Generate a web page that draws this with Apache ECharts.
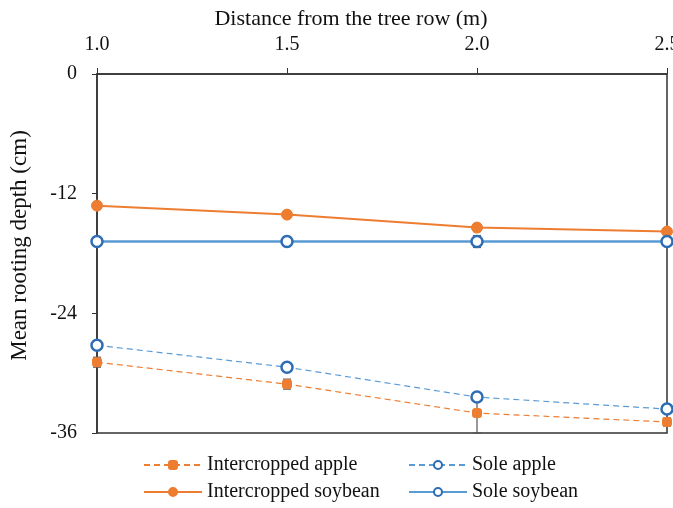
<!DOCTYPE html>
<html lang="en">
<head>
  <meta charset="UTF-8">
  <title>rooting depth</title>
  <script src="https://cdn.jsdelivr.net/npm/echarts@6/dist/echarts.min.js"></script>
  <style>
    html, body { margin: 0; padding: 0; background: #fff; }
    #main { width: 673px; height: 508px; }
  </style>
</head>
<body>
<div id="main"></div>
<script type="text/javascript">
  // data
  var distance = [1.0, 1.5, 2.0, 2.5];
  var intercroppedApple = [-28.9, -31.1, -34.0, -34.9];
  var soleApple = [-27.2, -29.4, -32.4, -33.6];
  var intercroppedSoybean = [-13.2, -14.1, -15.4, -15.8];
  var soleSoybean = [-16.8, -16.8, -16.8, -16.8];
  // error bar half-widths
  var errIntApple = [0.5, 0.5, 2.0, 0.4];
  var errSoleApple = [0.3, 0.3, 0.4, 0.3];
  var errIntSoy = [0.3, 0.3, 0.4, 0.2];
  var errSoleSoy = [0.2, 0.5, 0.6, 0.2];
  var yTicks = [0, -12, -24, -36];

  var orange = '#ED7D31';
  var blue = '#5B9BD5';
  var darkBlue = '#2E6DB4';
  var font = '"Liberation Serif", "DejaVu Serif", serif';

  function pairs(vals) {
    var out = [];
    for (let i = 0; i < distance.length; i++) {
      out.push([distance[i], vals[i]]);
    }
    return out;
  }

  var errData = [];
  [[intercroppedApple, errIntApple], [soleApple, errSoleApple],
   [intercroppedSoybean, errIntSoy], [soleSoybean, errSoleSoy]].forEach(function (p) {
    for (let i = 0; i < distance.length; i++) {
      errData.push([distance[i], p[0][i] - p[1][i], p[0][i] + p[1][i]]);
    }
  });

  var chart = echarts.init(document.getElementById('main'));

  var option = {
    animation: false,
    backgroundColor: '#fff',
    textStyle: { fontFamily: font },
    grid: {
      left: 97, right: 6, top: 74, bottom: 75,
      outerBoundsMode: 'none',
      show: true, borderColor: '#333', borderWidth: 1.5
    },
    xAxis: {
      type: 'value',
      position: 'top',
      min: 1.0, max: 2.5, interval: 0.5,
      name: 'Distance from the tree row (m)',
      nameLocation: 'middle',
      nameGap: 40,
      // title sits a little left of the plot centre in the original
      nameTextStyle: { fontFamily: font, fontSize: 22, color: '#111', padding: [0, 62, 0, 0] },
      axisLine: { show: true, lineStyle: { color: '#333', width: 1.5 } },
      axisTick: { show: true, length: 6, lineStyle: { color: '#333' } },
      axisLabel: {
        fontFamily: font, fontSize: 20, color: '#111', margin: 19,
        formatter: function (v) { return v.toFixed(1); }
      },
      splitLine: { show: false }
    },
    yAxis: {
      type: 'value',
      min: -36, max: 0, interval: 12,
      name: 'Mean rooting depth (cm)',
      nameLocation: 'middle',
      nameGap: 66,
      nameRotate: 90,
      nameTextStyle: { fontFamily: font, fontSize: 23, color: '#111', padding: [0, 0, 0, 16] },
      axisLine: { show: true, lineStyle: { color: '#333', width: 1.5 } },
      axisTick: { show: true, length: 5, lineStyle: { color: '#333' } },
      axisLabel: {
        fontFamily: font, fontSize: 20, color: '#111', margin: 20,
        formatter: function (v) { return yTicks.indexOf(v) >= 0 ? String(v) : ''; }
      },
      splitLine: { show: false }
    },
    legend: [
      {
        left: 143, top: 455, orient: 'vertical', itemGap: 7, padding: 0,
        itemWidth: 58, itemHeight: 10,
        textStyle: { fontFamily: font, fontSize: 20, color: '#111' },
        data: ['Intercropped apple', 'Intercropped soybean']
      },
      {
        left: 408, top: 455, orient: 'vertical', itemGap: 7, padding: 0,
        itemWidth: 58, itemHeight: 10,
        textStyle: { fontFamily: font, fontSize: 20, color: '#111' },
        data: ['Sole apple', 'Sole soybean']
      }
    ],
    series: [
      {
        name: 'Error',
        type: 'custom',
        z: 1,
        data: errData,
        renderItem: function (params, api) {
          var x = api.value(0);
          var lo = api.coord([x, api.value(1)]);
          var hi = api.coord([x, api.value(2)]);
          var w = 4;
          var style = { stroke: '#555', lineWidth: 1.2 };
          return {
            type: 'group',
            children: [
              { type: 'line', shape: { x1: lo[0], y1: lo[1], x2: hi[0], y2: hi[1] }, style: style },
              { type: 'line', shape: { x1: lo[0] - w, y1: lo[1], x2: lo[0] + w, y2: lo[1] }, style: style },
              { type: 'line', shape: { x1: hi[0] - w, y1: hi[1], x2: hi[0] + w, y2: hi[1] }, style: style }
            ]
          };
        }
      },
      {
        name: 'Intercropped apple',
        type: 'line',
        data: pairs(intercroppedApple),
        symbol: 'roundRect', symbolSize: 9,
        lineStyle: { color: orange, width: 1.2, type: [6, 4] },
        itemStyle: { color: orange, borderColor: orange, borderWidth: 1 },
        z: 3
      },
      {
        name: 'Sole apple',
        type: 'line',
        data: pairs(soleApple),
        symbol: 'circle', symbolSize: 11,
        lineStyle: { color: blue, width: 1.2, type: [6, 4] },
        itemStyle: { color: '#fff', borderColor: darkBlue, borderWidth: 2.5 },
        z: 3
      },
      {
        name: 'Intercropped soybean',
        type: 'line',
        data: pairs(intercroppedSoybean),
        symbol: 'circle', symbolSize: 11,
        lineStyle: { color: orange, width: 2 },
        itemStyle: { color: orange, borderColor: orange, borderWidth: 1 },
        z: 3
      },
      {
        name: 'Sole soybean',
        type: 'line',
        data: pairs(soleSoybean),
        symbol: 'circle', symbolSize: 11,
        lineStyle: { color: blue, width: 2.5 },
        itemStyle: { color: '#fff', borderColor: darkBlue, borderWidth: 2.5 },
        z: 3
      }
    ]
  };
  chart.setOption(option);
</script>
</body>
</html>
